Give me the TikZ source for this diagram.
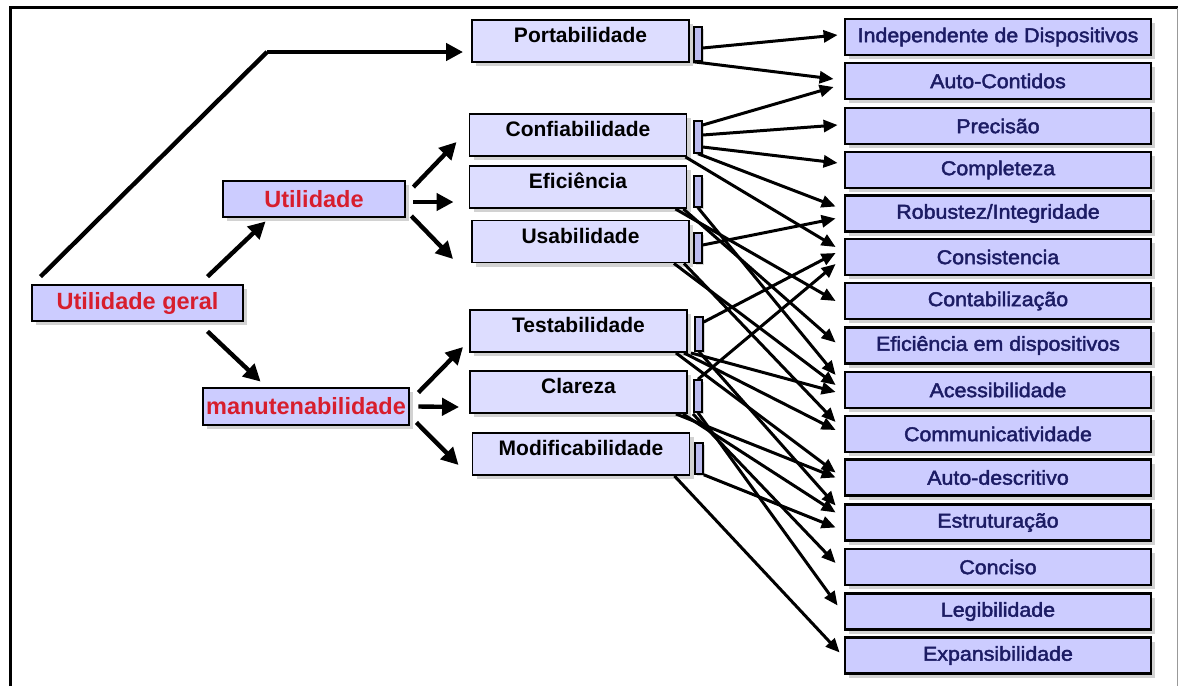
\documentclass[tikz,border=0pt]{standalone}
\usepackage{fontspec}
\setmainfont{Liberation Sans}
\newfontfamily\leaffont[FakeStretch=1.07,FakeBold=2.2]{Liberation Sans}
\usetikzlibrary{arrows.meta,shadows}
\definecolor{boxblue}{RGB}{204,204,255}
\definecolor{paleblue}{RGB}{221,221,255}
\definecolor{barblue}{RGB}{187,187,238}
\definecolor{headred}{RGB}{215,30,45}
\definecolor{navy}{RGB}{28,28,100}

\begin{document}
\begin{tikzpicture}[x=1pt,y=-1pt,
  shade/.style={drop shadow={shadow xshift=4pt,shadow yshift=-4pt,fill=black!35}},
  topbox/.style={shade, draw, line width=2.8pt, fill=boxblue, inner sep=0pt,
    minimum height=36pt, font=\fontsize{23.5}{26}\bfseries\selectfont, text=headred},
  midbox/.style={shade, draw, line width=1.9pt, fill=paleblue, inner sep=0pt,
    minimum width=217pt, text height=22.5pt, text depth=19.5pt,
    font=\fontsize{21}{23}\bfseries\selectfont},
  tab/.style={draw, line width=1.5pt, fill=barblue, minimum width=8pt, inner sep=0pt,
    drop shadow={shadow xshift=2pt,shadow yshift=-2pt,fill=black!30}},
  leaf/.style={shade, draw, line width=2.8pt, fill=boxblue, inner sep=0pt,
    minimum width=306pt, minimum height=36pt,
    font=\leaffont\fontsize{20}{22}\selectfont, text=navy},
  thick arrow/.style={line width=4.4pt, -{Triangle[length=17pt,width=17pt]}},
  link/.style={line width=3pt, -{Triangle[length=14pt,width=12pt]}},
]
\useasboundingbox (0,0) rectangle (1180,686);

% outer frame
\draw[line width=3pt] (10,686) -- (10,7.5) -- (1178,7.5);
\draw[black!40, line width=1pt] (1177,7.5) -- (1177,686);

% top-level characteristics
\node[topbox, minimum width=211pt] (ug) at (137.5,303) {Utilidade geral};
\node[topbox, minimum width=182pt] (ut) at (314,199) {Utilidade};
\node[topbox, minimum width=206pt, minimum height=37pt] (mn) at (306,406.5) {manutenabilidade};

% intermediate characteristics
\node[midbox] (port) at (580.5,41) {Portabilidade};
\node[midbox] (conf) at (578,135) {Confiabilidade};
\node[midbox] (efic) at (578,187) {Eficiência};
\node[midbox] (usab) at (580.5,241.5) {Usabilidade};
\node[midbox] (test) at (578.5,331) {Testabilidade};
\node[midbox] (clar) at (578.5,392) {Clareza};
\node[midbox] (modi) at (581,454) {Modificabilidade};

% connector tabs
\node[tab, minimum height=34pt] (pbar) at (698,44) {};
\node[tab, minimum height=32pt] (cbar) at (698,137) {};
\node[tab, minimum height=31pt] (ebar) at (698,191.5) {};
\node[tab, minimum height=30pt] (ubar) at (698,248) {};
\node[tab, minimum height=34pt] (tbar) at (699,334) {};
\node[tab, minimum height=32pt] (kbar) at (698,396) {};
\node[tab, minimum height=31pt] (mbar) at (699,458.5) {};

% primitive characteristics
\node[leaf] (indep)  at (998,37)    {Independente de Dispositivos};
\node[leaf] (autoc)  at (998,81)    {Auto-Contidos};
\node[leaf] (prec)   at (998,126)   {Precisão};
\node[leaf] (comp)   at (998,170)   {Completeza};
\node[leaf] (rob)    at (998,213.5) {Robustez/Integridade};
\node[leaf] (cons)   at (998,257)   {Consistencia};
\node[leaf] (contab) at (998,301)   {Contabilização};
\node[leaf] (efd)    at (998,345.5) {Eficiência em dispositivos};
\node[leaf] (aces)   at (998,390)   {Acessibilidade};
\node[leaf] (comm)   at (998,434)   {Communicatividade};
\node[leaf] (autod)  at (998,477.5) {Auto-descritivo};
\node[leaf] (estr)   at (998,522.5) {Estruturação};
\node[leaf] (conc)   at (998,567)   {Conciso};
\node[leaf] (leg)    at (998,611.5) {Legibilidade};
\node[leaf] (exp)    at (998,655.5) {Expansibilidade};

% left-hand tree
\coordinate (knee) at (267,52);
\draw[line width=4.4pt] ([xshift=-97pt,yshift=7pt]ug.north) -- (knee);
\draw[thick arrow] (knee) -- ([xshift=-8pt,yshift=-11pt]port.west);
\draw[thick arrow] ([xshift=70pt,yshift=7pt]ug.north) -- ([xshift=44pt,yshift=-3pt]ut.south west);
\draw[thick arrow] ([xshift=70pt,yshift=-9pt]ug.south) -- ([xshift=59pt,yshift=5pt]mn.north west);
\draw[thick arrow] ([xshift=7pt,yshift=12pt]ut.east) -- ([xshift=-12pt,yshift=-7pt]conf.west);
\draw[thick arrow] ([xshift=7pt,yshift=-3pt]ut.east) -- ([xshift=-15pt,yshift=-15pt]efic.west);
\draw[thick arrow] ([xshift=5pt,yshift=-17pt]ut.east) -- ([xshift=-18pt,yshift=-17.5pt]usab.west);
\draw[thick arrow] ([xshift=8pt,yshift=14pt]mn.east) -- ([xshift=-6pt,yshift=-16pt]test.west);
\draw[thick arrow] ([xshift=8pt]mn.east) -- ([xshift=-10pt,yshift=-15pt]clar.west);
\draw[thick arrow] ([xshift=6pt,yshift=-16pt]mn.east) -- ([xshift=-13pt,yshift=-11pt]modi.west);

% Portabilidade
\draw[link] ([yshift=-4pt]pbar.east) -- ([xshift=-6pt,yshift=2pt]indep.west);
\draw[link] (pbar.south west) -- ([xshift=-10pt,yshift=2pt]autoc.west);
% Confiabilidade
\draw[link] ([yshift=12pt]cbar.east) -- ([xshift=-10pt,yshift=-6pt]autoc.west);
\draw[link] ([yshift=2pt]cbar.east) -- ([xshift=-6pt,yshift=1pt]prec.west);
\draw[link] ([yshift=-10pt]cbar.east) -- ([xshift=-6pt,yshift=7pt]comp.west);
\draw[link] (cbar.south) -- ([xshift=-8pt,yshift=7pt]rob.west);
\draw[link] ([xshift=-2pt]conf.south east) -- ([xshift=-8pt,yshift=10pt]cons.west);
% Eficiência
\draw[link] ([xshift=-12pt]efic.south east) -- ([xshift=-8pt]contab.west);
\draw[link] ([xshift=-4pt]efic.south east) -- ([xshift=-8pt,yshift=3pt]efd.west);
\draw[link] (ebar.south) -- ([xshift=-8pt,yshift=15pt]aces.west);
% Usabilidade
\draw[link] ([yshift=3pt]ubar.east) -- ([xshift=-8pt,yshift=-5pt]rob.west);
\draw[link] ([xshift=-16pt]usab.south east) -- ([xshift=-8pt,yshift=5pt]aces.west);
\draw[link] ([xshift=-6pt]usab.south east) -- ([xshift=-8pt,yshift=12pt]comm.west);
% Testabilidade
\draw[link] ([yshift=12pt]tbar.east) -- ([xshift=-8pt,yshift=4pt]cons.west);
\draw[link] ([xshift=3pt]test.south east) -- ([xshift=-8pt,yshift=-2pt]aces.west);
\draw[link] ([xshift=-4pt]test.south east) -- ([xshift=-8pt,yshift=4pt]comm.west);
\draw[link] ([xshift=-12pt]test.south east) -- ([xshift=-8pt,yshift=5pt]autod.west);
\draw[link] (tbar.south) -- ([xshift=-8pt,yshift=17pt]estr.west);
% Clareza
\draw[link] (kbar.north) -- ([xshift=-8pt,yshift=-7pt]cons.west);
\draw[link] ([xshift=-12pt]clar.south east) -- ([xshift=-8pt]autod.west);
\draw[link] ([xshift=-5pt]clar.south east) -- ([xshift=-8pt,yshift=10pt]estr.west);
\draw[link] ([xshift=5pt]clar.south east) -- ([xshift=-8pt,yshift=4pt]conc.west);
\draw[link] (kbar.south) -- ([xshift=-6pt,yshift=6pt]leg.west);
% Modificabilidade
\draw[link] (mbar.south east) -- ([xshift=-8pt,yshift=-5pt]estr.west);
\draw[link] ([xshift=-16pt]modi.south east) -- ([xshift=-4pt,yshift=3pt]exp.west);
\end{tikzpicture}
\end{document}
